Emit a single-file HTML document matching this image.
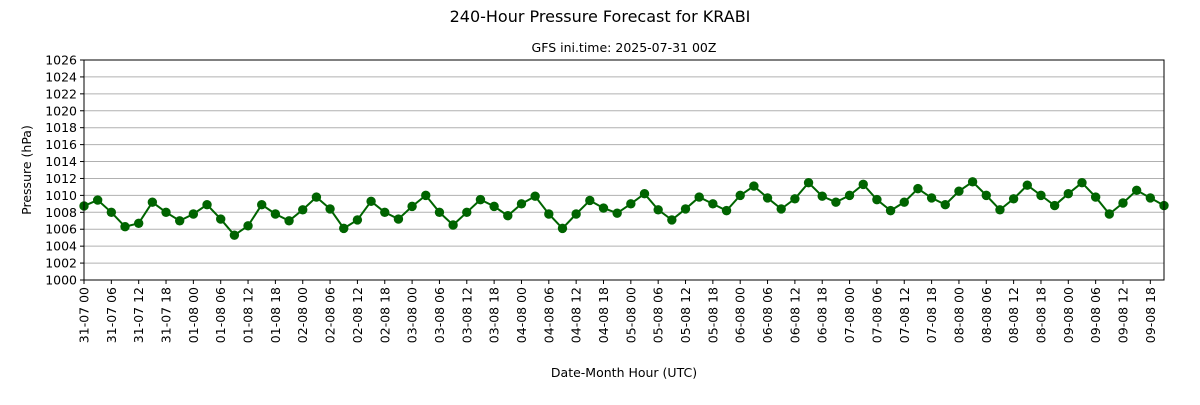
<!DOCTYPE html>
<html><head><meta charset="utf-8"><style>
body{margin:0;background:#fff;}
svg{font-family:"DejaVu Sans","Liberation Sans",sans-serif;}
</style></head><body>
<svg id="chart" width="1200" height="400" xmlns="http://www.w3.org/2000/svg">
<text x="600" y="22" text-anchor="middle" font-size="16">240-Hour Pressure Forecast for KRABI</text>
<text x="624" y="52" text-anchor="middle" font-size="12.5">GFS ini.time: 2025-07-31 00Z</text>
<text x="624" y="377" text-anchor="middle" font-size="12.5">Date-Month Hour (UTC)</text>
<text transform="translate(31,170) rotate(-90)" text-anchor="middle" font-size="12.5">Pressure (hPa)</text>
<g id="grid"></g><g id="series"></g><g id="axes"></g>
</svg>
<script>
const pressures=[1008.75,1009.45,1008.0,1006.3,1006.7,1009.2,1008.0,1007.0,1007.8,1008.9,1007.2,1005.3,1006.4,1008.9,1007.8,1007.0,1008.3,1009.8,1008.4,1006.1,1007.1,1009.3,1008.0,1007.2,1008.7,1010.0,1008.0,1006.5,1008.0,1009.5,1008.7,1007.6,1009.0,1009.9,1007.8,1006.1,1007.8,1009.4,1008.5,1007.9,1009.0,1010.2,1008.3,1007.1,1008.4,1009.8,1009.0,1008.2,1010.0,1011.1,1009.7,1008.4,1009.6,1011.5,1009.9,1009.2,1010.0,1011.3,1009.5,1008.2,1009.2,1010.8,1009.7,1008.9,1010.5,1011.6,1010.0,1008.3,1009.6,1011.2,1010.0,1008.8,1010.2,1011.5,1009.8,1007.8,1009.1,1010.6,1009.7,1008.8];
const days=["31-07","01-08","02-08","03-08","04-08","05-08","06-08","07-08","08-08","09-08"];
const hours=["00","06","12","18"];
const yTicks=[1000,1002,1004,1006,1008,1010,1012,1014,1016,1018,1020,1022,1024,1026];
const X0=84,X1=1164,Y0=280,Y1=60,NS="http://www.w3.org/2000/svg";
const xs=i=>X0+(X1-X0)*i/(pressures.length-1);
const ys=v=>Y0-(v-1000)*(Y0-Y1)/26;
function mk(t,a,p){const e=document.createElementNS(NS,t);for(const k in a)e.setAttribute(k,a[k]);p.appendChild(e);return e;}
const grid=document.getElementById('grid'),ser=document.getElementById('series'),ax=document.getElementById('axes');
yTicks.forEach(v=>{
 const l=mk('line',{x1:X0,x2:X1,y1:ys(v),y2:ys(v),stroke:'#b0b0b0','stroke-width':1},grid);
 
 
 mk('line',{x1:X0-4,x2:X0,y1:ys(v),y2:ys(v),stroke:'#000'},ax);
 const t=mk('text',{x:X0-7,y:ys(v)+4.5,'text-anchor':'end','font-size':12.5},ax);
 t.textContent=v;
 
 
});
let k=0;
days.forEach(d=>hours.forEach(h=>{
 const x=xs(k*2);k++;
 mk('line',{x1:x,x2:x,y1:Y0,y2:Y0+4,stroke:'#000'},ax);
 const t=mk('text',{transform:`translate(${x+4.5},${Y0+7}) rotate(-90)`,'text-anchor':'end','font-size':12.5},ax);
 t.textContent=d+' '+h;
 
 
}));
const line=mk('polyline',{points:pressures.map((v,i)=>xs(i)+','+ys(v)).join(' '),fill:'none',stroke:'#006400','stroke-width':2},ser);


pressures.forEach((v,i)=>{
 const c=mk('circle',{cx:xs(i),cy:ys(v),r:4.7,fill:'#006400'},ser);
 
 
});
const fr=mk('rect',{x:X0,y:Y1,width:X1-X0,height:Y0-Y1,fill:'none',stroke:'#000','stroke-width':1},ax);


</script>
</body></html>
